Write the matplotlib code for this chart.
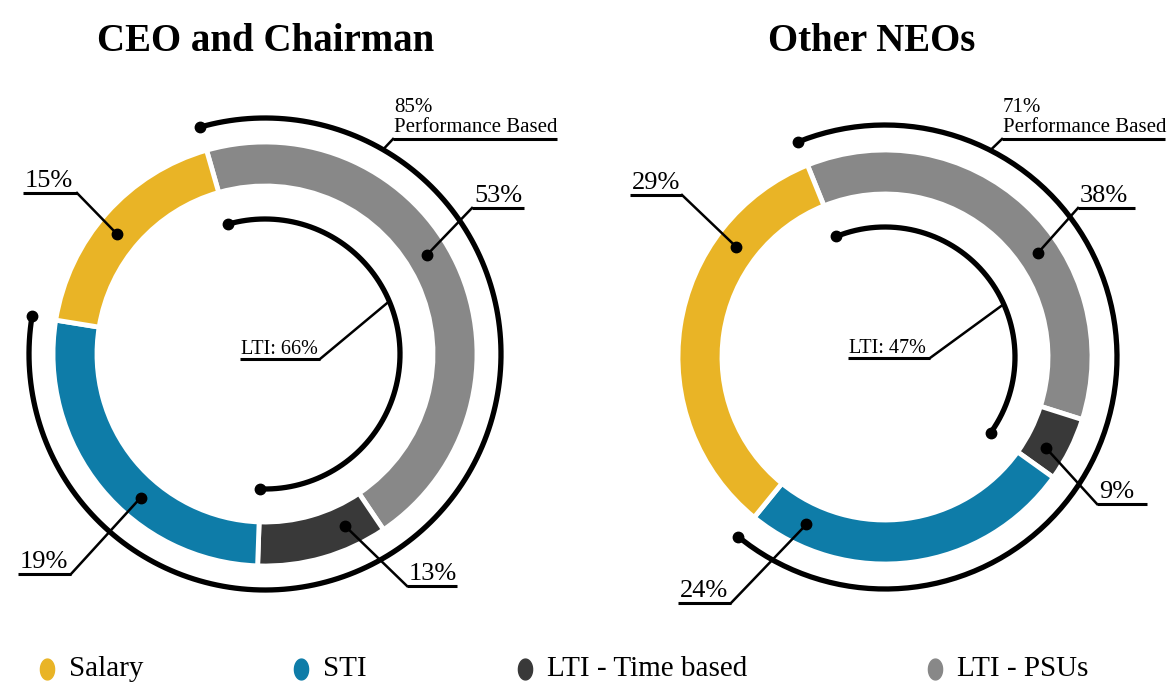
import numpy as np
import matplotlib.pyplot as plt
from matplotlib.path import Path

W, H = 1171, 698

categories = ["Salary", "STI", "LTI - Time based", "LTI - PSUs"]
colors = ["#E9B426", "#0E7CA8", "#393939", "#888888"]

# printed percentages
ceo_pct = [15, 19, 13, 53]
neo_pct = [29, 24, 9, 38]
ceo_perf, ceo_lti = 85, 66
neo_perf, neo_lti = 71, 47

# the source ring is not drawn to scale, these are the shares as drawn
ceo_ring = [18, 27, 10, 45]
neo_ring = [33, 26, 5, 36]

titles = ["CEO and Chairman", "Other NEOs"]

plt.rcParams["font.family"] = ["Liberation Serif", "DejaVu Serif"]

fig = plt.figure(figsize=(W / 100, H / 100), dpi=100)
ax = fig.add_axes([0, 0, 1, 1])


def arc(cx, cy, r, a0, a1, n=200):
    t = np.radians(np.linspace(a0, a1, n))
    return cx + r * np.cos(t), cy + r * np.sin(t)


# layout, pixel coords measured from top-left of the picture
charts = [
    dict(title=titles[0], title_x=266, cx=265, cy=354, R=212, wd=44, start=106,
         ring=ceo_ring, pct=ceo_pct, perf=ceo_perf, lti=ceo_lti,
         r_out=236, r_in=135, dot_frac=[0.46, 0.40, 0.25, 0.46],
         labels=[(23, 77, 193, "r"), (18, 71, 574, "r"),
                 (407, 457, 586, "l"), (472, 524, 208, "l")],
         lti_lab=(240, 320, 359), lti_ang=23,
         perf_lab=(393, 557, 139), perf_ang=60),
    dict(title=titles[1], title_x=872, cx=885, cy=357, R=207, wd=44, start=112,
         ring=neo_ring, pct=neo_pct, perf=neo_perf, lti=neo_lti,
         r_out=232, r_in=130, dot_frac=[0.735, 0.85, 0.66, 0.6],
         labels=[(630, 682, 195, "r"), (678, 731, 603, "r"),
                 (1097, 1147, 504, "l"), (1078, 1135, 208, "l")],
         lti_lab=(848, 930, 358), lti_ang=24,
         perf_lab=(1002, 1165, 139), perf_ang=63),
]

order = [3, 2, 1, 0]  # clockwise from the top: PSUs, time based, STI, salary

for c in charts:
    cx, cy = c["cx"], H - c["cy"]
    ring = c["ring"]
    total = sum(ring)
    ax.pie([ring[i] for i in order], colors=[colors[i] for i in order],
           startangle=c["start"], counterclock=False, radius=c["R"], center=(cx, cy),
           wedgeprops=dict(width=c["wd"], edgecolor="white", linewidth=3.5))

    # wedge boundaries (clockwise)
    a = c["start"]
    w_start, w_span = {}, {}
    for i in order:
        span = ring[i] / total * 360
        w_start[i], w_span[i] = a, span
        a -= span

    # performance based arc: PSUs + time based + STI
    a_end = w_start[1] - w_span[1]
    xs, ys = arc(cx, cy, c["r_out"], c["start"], a_end)
    ax.plot(xs, ys, color="black", lw=3.8, solid_capstyle="round")
    ax.plot([xs[0], xs[-1]], [ys[0], ys[-1]], "o", color="black", ms=7.5)

    # LTI arc: PSUs + time based
    a_end = w_start[2] - w_span[2]
    xs, ys = arc(cx, cy, c["r_in"], c["start"], a_end)
    ax.plot(xs, ys, color="black", lw=3.8, solid_capstyle="round")
    ax.plot([xs[0], xs[-1]], [ys[0], ys[-1]], "o", color="black", ms=7.5)

    # segment labels
    rm = c["R"] - c["wd"] / 2
    for i, (x0, x1, yu, side) in enumerate(c["labels"]):
        ang = np.radians(w_start[i] - c["dot_frac"][i] * w_span[i])
        dx, dy = cx + rm * np.cos(ang), cy + rm * np.sin(ang)
        yy = H - yu
        ax.plot([x0, x1], [yy, yy], color="black", lw=2.2, solid_capstyle="butt")
        ex = x1 if side == "r" else x0
        ax.plot([ex, dx], [yy, dy], color="black", lw=1.8)
        ax.plot(dx, dy, "o", color="black", ms=7.5)
        ax.text(x0 + 2, yy + 6, f"{c['pct'][i]}%", fontsize=19,
                ha="left", va="baseline")

    # LTI label
    x0, x1, yu = c["lti_lab"]
    yy = H - yu
    t = np.radians(c["lti_ang"])
    px, py = cx + c["r_in"] * np.cos(t), cy + c["r_in"] * np.sin(t)
    ax.plot([x0, x1], [yy, yy], color="black", lw=2.2, solid_capstyle="butt")
    ax.plot([x1, px], [yy, py], color="black", lw=1.8)
    ax.text(x0 + 1, yy + 5, f"LTI: {c['lti']}%", fontsize=14.5, ha="left", va="baseline")

    # performance based label
    x0, x1, yu = c["perf_lab"]
    yy = H - yu
    t = np.radians(c["perf_ang"])
    px, py = cx + c["r_out"] * np.cos(t), cy + c["r_out"] * np.sin(t)
    ax.plot([x0, x1], [yy, yy], color="black", lw=2.2, solid_capstyle="butt")
    ax.plot([x0, px], [yy, py], color="black", lw=1.8)
    ax.text(x0 + 1, yy + 7, "Performance Based", fontsize=15, ha="left", va="baseline")
    ax.text(x0 + 1, yy + 27, f"{c['perf']}%", fontsize=15, ha="left", va="baseline")

    ax.text(c["title_x"], H - 51, c["title"], fontsize=28, fontweight="bold",
            ha="center", va="baseline")

# legend
t = np.linspace(0, 2 * np.pi, 60)
oval = Path(np.column_stack([0.68 * np.cos(t), np.sin(t)]))
leg_x = [47, 301, 525, 935]
for lx, name, col in zip(leg_x, categories, colors):
    ax.plot(lx, H - 669, marker=oval, color=col, ms=15, ls="none")
    ax.text(lx + 22, H - 669, name, fontsize=21, ha="left", va="center")

ax.set_xlim(0, W)
ax.set_ylim(0, H)
ax.set_aspect("equal")
ax.axis("off")

fig.savefig("out.png", dpi=100)
